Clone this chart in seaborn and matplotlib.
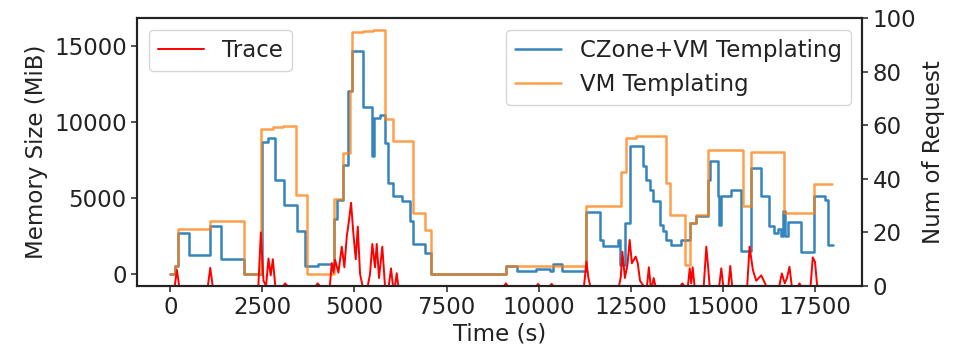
import matplotlib
matplotlib.use("Agg")
import matplotlib.pyplot as plt
import pandas as pd
import seaborn as sns

# memory footprint (MiB), step changes: (time s, value)
VM_TIMES = [0, 130, 200, 1084, 2006, 2450, 2800, 3070, 3407, 3705, 4446, 4700, 4880,
            4925, 5240, 5500, 5830, 6055, 6600, 6910, 7090, 9110, 11280, 12245, 12370,
            12650, 13465, 13555, 13960, 14100, 14260, 14595, 15540, 15750, 16670, 17486, 17965]
VM_MEM = [0, 500, 2960, 3460, 0, 9540, 9670, 9760, 5170, 0, 4930, 7960, 12010,
          15900, 15980, 16030, 10220, 8720, 4010, 2910, 0, 545, 4450, 6700, 8950,
          9050, 5990, 3900, 610, 3350, 3900, 8180, 4450, 8000, 4010, 5940, 5940]

CZ_TIMES = [0, 130, 200, 497, 1084, 1383, 1988, 2485, 2650, 2830, 3073, 3434, 3650, 4021,
            4455, 4520, 4700, 4835, 4925, 5240, 5485, 5520, 5700, 5830, 5900, 6055, 6300,
            6505, 6590, 6910, 7090, 9110, 9400, 9940, 10300, 10390, 10620, 11280, 11660,
            11750, 12155, 12220, 12335, 12470, 12830, 12900, 13010, 13100, 13280, 13380,
            13465, 13600, 13870, 14100, 14260, 14595, 14650, 14860, 14900, 14950, 15230,
            15500, 15750, 16040, 16250, 16380, 16500, 16590, 16640, 16680, 16765, 17125,
            17486, 17770, 17840, 17985]
CZ_MEM = [0, 500, 2700, 1270, 3130, 1000, 0, 8660, 8950, 6160, 4560, 2850, 500, 640,
          3620, 4890, 7190, 12010, 14650, 10990, 7740, 10260, 10480, 8620, 5990, 5100, 4770,
          3500, 1990, 1380, 0, 545, 170, 350, 170, 680, 170, 4050, 2260,
          1860, 2260, 610, 3350, 8400, 7080, 6200, 5550, 4780, 3240, 2800,
          2260, 1930, 2260, 3350, 3790, 6200, 7410, 5100, 3240, 5100, 5500,
          1490, 6970, 5100, 3130, 2700, 2950, 2520, 4120, 2520, 3390, 1420,
          5150, 4890, 1880, 1880]

# request trace (requests per sample)
TRACE_TIMES = [0, 120, 180, 240, 1020, 1084, 1150, 2390, 2458, 2530, 2600, 2665, 2725,
               2784, 2850, 3060, 3118, 3180, 3950, 4000, 4060, 4330, 4384, 4430, 4473,
               4563, 4655, 4725, 4790, 4853, 4907, 4969, 5034, 5089, 5151, 5220, 5360,
               5422, 5484, 5557, 5604, 5666, 5755, 5828, 5930, 5991, 6045, 6100, 6146,
               6189, 9060, 9110, 9160, 9940, 9985, 10030, 10300, 10350, 10400, 11230,
               11296, 11350, 11400, 12180, 12230, 12272, 12340, 12408, 12470, 12530,
               12633, 12690, 12750, 12850, 12940, 12990, 13040, 13080, 13120, 13170,
               13850, 13900, 13950, 14050, 14100, 14140, 14180, 14230, 14480, 14550,
               14600, 14640, 14900, 14957, 15010, 15150, 15200, 15250, 15660, 15724,
               15814, 15905, 16041, 16177, 16530, 16600, 16680, 16740, 16808, 16870,
               17040, 17079, 17120, 17380, 17440, 17500, 17560, 17985]
TRACE_REQ = [0, 0, 6, 0, 0, 6.8, 0, 0, 20, 2, 0, 10.3, 4,
             10, 0, 0, 1, 0, 0, 1, 0, 0, 8.6, 5, 9.8,
             5, 14.7, 7, 18.4, 24.7, 31.1, 19.7, 10, 22.2, 4.5, 0, 0,
             4.5, 15.7, 7, 15.7, 3, 14.7, 0, 0, 6.6, 0, 0, 4.8,
             0, 0, 1, 0, 0, 0.8, 0, 0, 0.8, 0, 0,
             9.1, 3, 0, 0, 3.5, 12.8, 3, 7.8, 17.2, 8.5,
             11, 8.5, 2, 0, 0, 7, 0, 0, 3, 0,
             0, 1, 0, 0, 6.6, 1, 7, 0, 0, 14.7,
             7, 0, 0, 6.6, 0, 0, 7.5, 0, 0, 14.7,
             6, 2, 4, 0, 0, 4.7, 1, 3, 7.2, 0,
             0, 1, 0, 0, 10.7, 9, 0, 0]

BLUE = "#1f77b4"
ORANGE = "#ff7f0e"


def main() -> None:
    sns.set_theme(
        style="ticks",
        rc={
            "axes.edgecolor": "#222222",
            "axes.linewidth": 1.5,
            "xtick.major.width": 1.1,
            "ytick.major.width": 1.1,
            "xtick.major.size": 4,
            "ytick.major.size": 4,
            "xtick.color": "#222222",
            "ytick.color": "#222222",
            "axes.labelcolor": "#222222",
            "text.color": "#222222",
        },
    )
    plt.rcParams["font.family"] = ["DejaVu Sans"]
    plt.rcParams["font.size"] = 16.5

    vm = pd.DataFrame({"t": VM_TIMES, "mem": VM_MEM})
    cz = pd.DataFrame({"t": CZ_TIMES, "mem": CZ_MEM})
    trace = pd.DataFrame({"t": TRACE_TIMES, "req": TRACE_REQ})

    fig, ax = plt.subplots(figsize=(9.59, 3.48), dpi=100)
    fig.subplots_adjust(left=0.143, right=0.899, top=0.948, bottom=0.178)

    sns.lineplot(data=cz, x="t", y="mem", ax=ax, color=BLUE, lw=1.8, alpha=0.9,
                 drawstyle="steps-post", estimator=None, sort=False,
                 label="CZone+VM Templating")
    sns.lineplot(data=vm, x="t", y="mem", ax=ax, color=ORANGE, lw=1.8, alpha=0.75,
                 drawstyle="steps-post", estimator=None, sort=False,
                 label="VM Templating")
    ax.set_xlim(-900, 18780)
    ax.set_ylim(-800, 16830)
    ax.set_xticks([0, 2500, 5000, 7500, 10000, 12500, 15000, 17500])
    ax.set_yticks([0, 5000, 10000, 15000])
    ax.set_xlabel("Time (s)", fontsize=16.5, labelpad=2)
    ax.set_ylabel("Memory Size (MiB)", fontsize=16.5)
    ax.tick_params(labelsize=16.5)
    ax.legend(loc="upper right", fontsize=16.5, frameon=True)

    ax2 = ax.twinx()
    sns.lineplot(data=trace, x="t", y="req", ax=ax2, color="red", lw=1.4,
                 estimator=None, sort=False, label="Trace")
    ax2.set_ylim(0, 100)
    ax2.set_yticks([0, 20, 40, 60, 80, 100])
    ax2.set_ylabel("Num of Request", fontsize=16.5)
    ax2.tick_params(labelsize=16.5)
    ax2.legend(loc="upper left", fontsize=16.5, frameon=True)

    fig.savefig("out.png", dpi=100)
    plt.close(fig)


if __name__ == "__main__":
    main()
